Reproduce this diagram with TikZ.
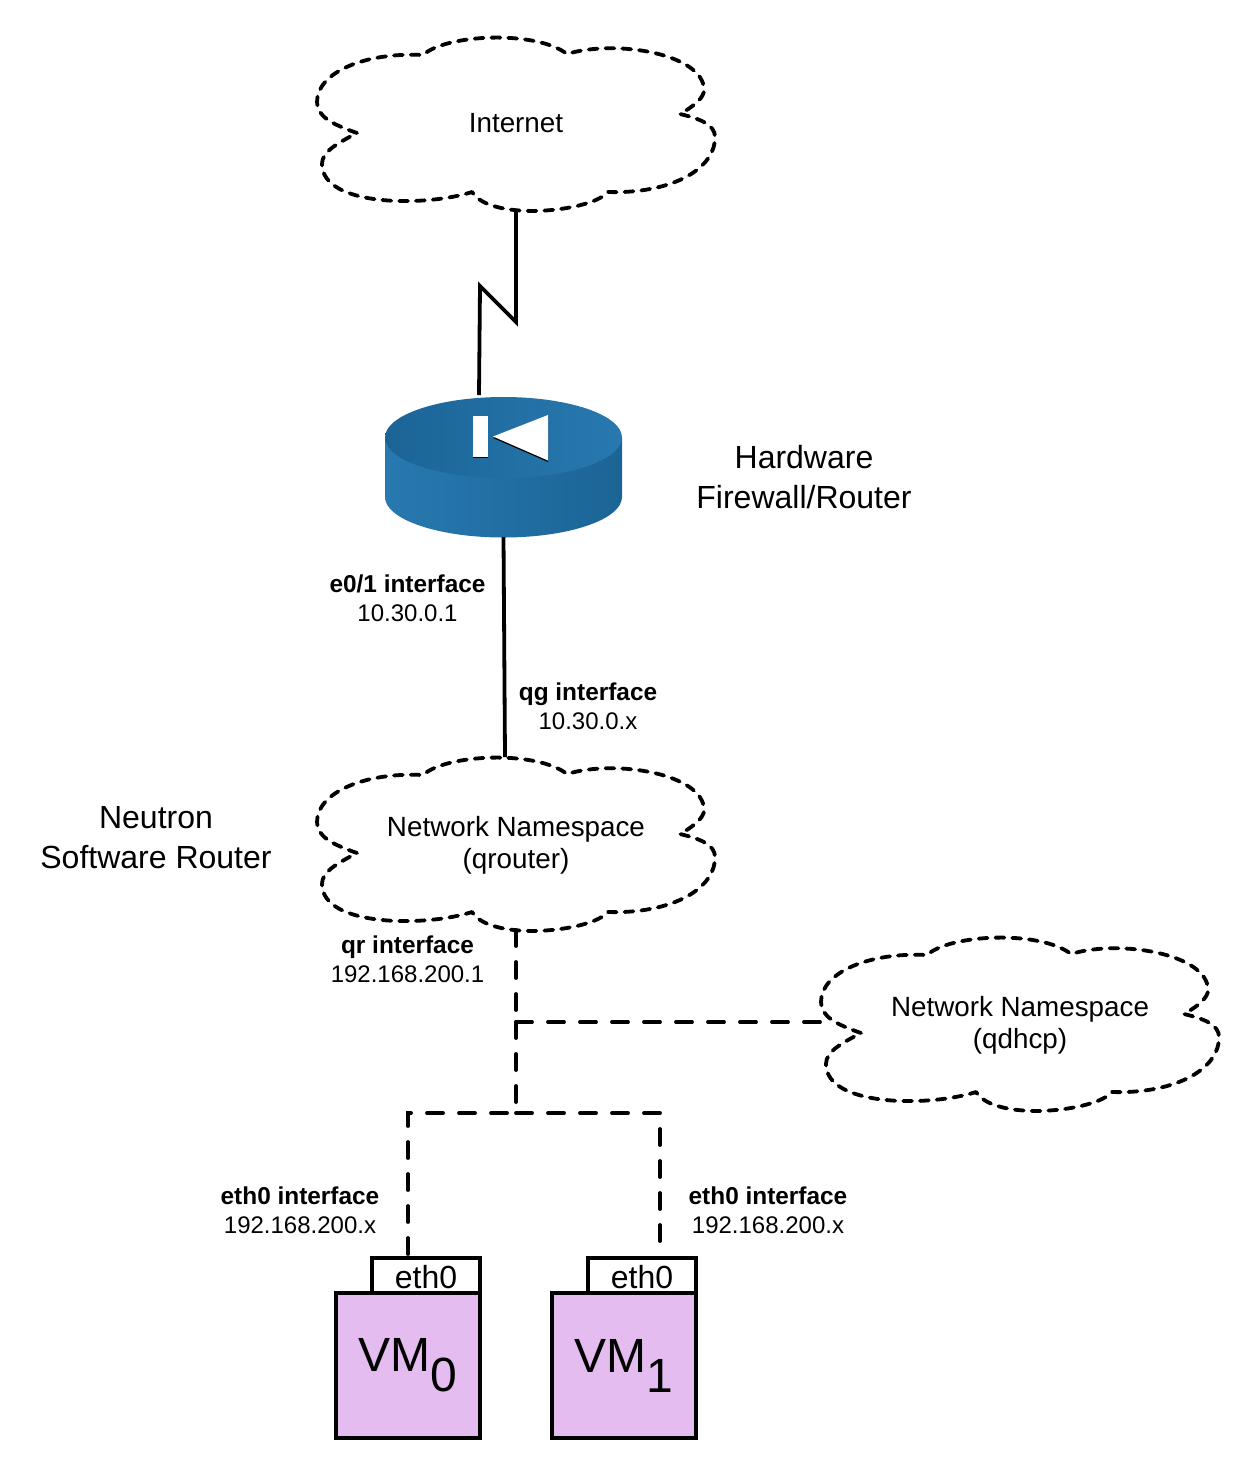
\documentclass[tikz,border=0pt]{standalone}
\usepackage{fontspec}
\setmainfont{Liberation Sans}
\definecolor{routerlight}{RGB}{40,121,176}
\definecolor{routerdark}{RGB}{27,100,150}
\definecolor{vmpurple}{RGB}{228,188,239}
\usetikzlibrary{positioning,calc}
\tikzset{
    cloudline/.style={line width=1.9pt, dash pattern=on 4.4pt off 4pt, line cap=round, line join=round},
    solidline/.style={line width=1.9pt, line join=miter},
    dashline/.style={line width=1.9pt, dash pattern=on 8pt off 8pt, line cap=round},
    cloudtext/.style={font=\fontsize{13.9}{16}\selectfont, align=center},
    bigtext/.style={font=\fontsize{16}{20}\selectfont, align=center},
    iflabel/.style={font=\fontsize{12}{14.5}\selectfont, align=center},
    vmbox/.style={draw, line width=2pt, fill=vmpurple, minimum width=72pt, minimum height=72.5pt, inner sep=0pt, outer sep=0pt, font=\fontsize{24}{24}\selectfont},
    tabbox/.style={draw, line width=2pt, fill=white, minimum width=54pt, minimum height=17.5pt, inner sep=0pt, outer sep=0pt, anchor=south east, font=\fontsize{16}{16}\selectfont},
    dashcloud/.pic={
        \draw[cloudline] (-159,11) .. controls (-185,2) and (-199,-6) .. (-199,-20)
            .. controls (-199,-50) and (-150,-70) .. (-93,-67)
            .. controls (-70,-88) and (20,-92) .. (51,-68)
            .. controls (100,-83) and (188,-68) .. (188,-32)
            .. controls (188,-25) and (180,-17) .. (164,-8)
            .. controls (185,-3) and (199,3) .. (199,15)
            .. controls (199,50) and (150,72) .. (92,70)
            .. controls (75,90) and (-25,100) .. (-44,70)
            .. controls (-90,85) and (-194,85) .. (-194,42)
            .. controls (-194,30) and (-180,22) .. (-159,11);
        \coordinate (-top) at (-11,-85);
        \coordinate (-bottom) at (0,88);
        \coordinate (-left) at (-198,0);
    }
}
\newcommand{\vmname}[1]{VM\raisebox{-10pt}{#1}}
\newcommand{\ifname}[1]{{\fontsize{12.2}{14.5}\selectfont\bfseries #1}}
\begin{document}
\begin{tikzpicture}[x=0.5pt, y=-0.5pt]
    \useasboundingbox (0,0) rectangle (1252,1472);

    \pic (internetcloud) at (516,122) {dashcloud};
    \pic (qroutercloud) at (516,842) {dashcloud};
    \pic (qdhcpcloud) at (1020,1022) {dashcloud};
    \node[cloudtext] (internet) at (516,123) {Internet};
    \node[cloudtext] (qrouter) at (516,845) {Network Namespace\\(qrouter)};
    \node[cloudtext] (qdhcp) at (1020,1025) {Network Namespace\\(qdhcp)};

    \node[minimum width=118.5pt, minimum height=70pt, inner sep=0pt, outer sep=0pt] (router) at (503.5,467) {};
    \shade[left color=routerlight, middle color=routerlight!45!routerdark, right color=routerdark]
        (385,437.5) -- (385,497) arc[start angle=180, end angle=360, x radius=59.25pt, y radius=20.25pt] -- (622,437.5) -- cycle;
    \shade[left color=routerdark, middle color=routerdark!75!routerlight, right color=routerlight]
        (503.5,437.5) ellipse [x radius=59.25pt, y radius=20.25pt];
    \fill[black] (473,417) rectangle (488,458);
    \fill[black] (493,438) -- (548,416) -- (548,462) -- cycle;
    \fill[white] (473,416) rectangle (488,457);
    \fill[white] (493,436.5) -- (548,415) -- (548,460.5) -- cycle;

    \node[bigtext] (hwlabel) at (804,477) {Hardware\\Firewall/Router};
    \node[bigtext] (swlabel) at (156,838) {Neutron\\Software Router};

    \node[iflabel] (e0label) at (407.5,598.5) {\ifname{e0/1 interface}\\10.30.0.1};
    \node[iflabel] (qglabel) at (588,706.5) {\ifname{qg interface}\\10.30.0.x};
    \node[iflabel] (qrlabel) at (407.5,959) {\ifname{qr interface}\\192.168.200.1};
    \node[iflabel] (eth0label) at (300,1210.5) {\ifname{eth0 interface}\\192.168.200.x};
    \node[iflabel] (eth1label) at (768,1210.5) {\ifname{eth0 interface}\\192.168.200.x};

    \node[vmbox] (vm0) at (408,1365.5) {\vmname{0}};
    \node[vmbox] (vm1) at (624,1365.5) {\vmname{1}};
    \node[tabbox] (eth0) at (vm0.north east) {\raisebox{0pt}[12.5pt][0pt]{eth0}};
    \node[tabbox] (eth1) at (vm1.north east) {\raisebox{0pt}[12.5pt][0pt]{eth0}};

    \coordinate (boltlow) at (516,322);
    \coordinate (bolthigh) at (480,286);
    \coordinate (boltend) at (479,395);
    \coordinate (tee) at (516,1022);
    \coordinate (hub) at (516,1113);
    \coordinate (leftdrop) at (408,1113);
    \coordinate (rightdrop) at (660,1113);
    \coordinate (leftend) at (408,1254);
    \coordinate (rightend) at (660,1243);

    \draw[solidline] (internetcloud-bottom) -- (boltlow) -- (bolthigh) -- (boltend);
    \draw[solidline] (router.south) -- (qroutercloud-top);
    \draw[dashline] (qroutercloud-bottom) -- (tee);
    \draw[dashline] (tee) -- (qdhcpcloud-left);
    \draw[dashline] (tee) -- (hub);
    \draw[dashline] (leftend) -- (leftdrop) -- (hub);
    \draw[dashline] (hub) -- (rightdrop) -- (rightend);
\end{tikzpicture}
\end{document}
